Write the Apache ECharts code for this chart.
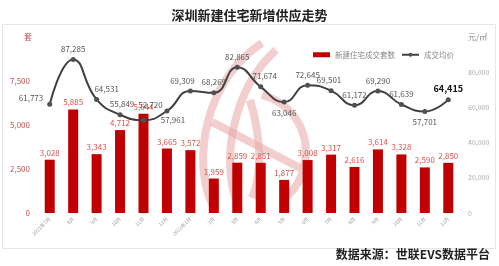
<!DOCTYPE html>
<html>
<head>
<meta charset="utf-8">
<script src="https://cdn.jsdelivr.net/npm/echarts@6/dist/echarts.min.js"></script>
<style>html,body{margin:0;padding:0;background:#fff;}#c{width:499px;height:266px;}</style>
</head>
<body>
<div id="c"></div>
<script>
const categories = ['2021年7月','8月','9月','10月','11月','12月','2022年1月','2月','3月','4月','5月','6月','7月','8月','9月','10月','11月','12月'];
const units = [3028,5885,3343,4712,5644,3665,3572,1959,2859,2851,1877,3008,3317,2616,3614,3328,2590,2850];
const prices = [61773,87285,64531,55849,52720,57961,69309,68269,82865,71674,63046,72645,69501,61172,69290,61639,57701,64415];
const priceLabelPos = ['left','top','top','top','top','bottom','top','top','top','top','bottom','top','top','top','top','top','bottom','top'];
const priceLabelOffset = [[0,-6],[0,0],[10,0],[2,0],[7,-5],[6,-2],[-8,0],[0,0],[0,0],[4,0],[0,0],[0,0],[-2,0],[0,0],[0,0],[0,0],[0,0],[0,0]];

const chart = echarts.init(document.getElementById('c'));
const font = '"Noto Sans CJK SC", "Noto Sans", sans-serif';
const wm = {stroke: '#e8a5a5', lineWidth: 8, fill: 'none', opacity: 0.55, lineCap: 'butt'};
chart.setOption({
  animation: false,
  textStyle: {fontFamily: font},
  title: {
    text: '深圳新建住宅新增供应走势', left: 'center', top: 4,
    textStyle: {fontSize: 13, fontWeight: 'bold', color: '#222', fontFamily: font}
  },
  legend: {
    right: 40, top: 46, itemGap: 6, itemWidth: 17, itemHeight: 5,
    textStyle: {fontSize: 7.5, color: '#888'},
    data: [
      {name: '新建住宅成交套数', icon: 'rect'},
      {name: '成交均价'}
    ]
  },
  grid: {left: 38, right: 39, top: 37, bottom: 53},
  xAxis: {
    type: 'category', data: categories,
    axisLine: {show: false}, axisTick: {show: false},
    axisLabel: {rotate: 45, fontSize: 5, color: '#999', interval: 0, margin: 5}
  },
  yAxis: [
    {type: 'value', min: 0, max: 10000, interval: 2500,
     splitLine: {show: false}, axisLine: {show: false}, axisTick: {show: false},
     axisLabel: {showMaxLabel: false, fontSize: 8, color: '#c0504d', margin: 8,
       formatter: v => v.toLocaleString('en-US')}},
    {type: 'value', min: 0, max: 100000, interval: 20000,
     splitLine: {show: false}, axisLine: {show: false}, axisTick: {show: false},
     axisLabel: {showMaxLabel: false, fontSize: 7, color: '#aaa', margin: 8,
       formatter: v => v.toLocaleString('en-US')}}
  ],
  series: [
    {name: '新建住宅成交套数', type: 'bar', data: units, barWidth: 10,
     itemStyle: {color: '#c00000'},
     label: {show: true, position: 'top', distance: 3, fontSize: 8, color: '#d9534f',
       formatter: p => p.value.toLocaleString('en-US')}},
    {name: '成交均价', type: 'line', yAxisIndex: 1, smooth: 0.5,
     symbol: 'circle', symbolSize: 5,
     lineStyle: {color: '#404040', width: 2}, itemStyle: {color: '#505050'},
     data: prices.map((v, i) => ({
       value: v,
       label: {show: true, position: priceLabelPos[i], offset: priceLabelOffset[i], distance: 4,
         fontSize: i === 17 ? 9 : 8, color: i === 17 ? '#111' : '#555',
         fontWeight: i === 17 ? 'bold' : 'normal',
         formatter: p => p.value.toLocaleString('en-US')}
     }))}
  ],
  graphic: [
    {type: 'rect', shape: {x: 2.5, y: 24.5, width: 493, height: 224}, silent: true, z: -10,
     style: {fill: 'none', stroke: '#e6e6e6', lineWidth: 1}},
    {type: 'bezierCurve', silent: true, z: -5, shape: {x1: 262, y1: 43, cpx1: 205, cpy1: 80, cpx2: 192, cpy2: 160, x2: 212, y2: 204}, style: wm},
    {type: 'bezierCurve', silent: true, z: -5, shape: {x1: 276, y1: 50, cpx1: 232, cpy1: 90, cpx2: 222, cpy2: 160, x2: 236, y2: 200}, style: wm},
    {type: 'bezierCurve', silent: true, z: -5, shape: {x1: 262, y1: 95, cpx1: 315, cpy1: 110, cpx2: 318, cpy2: 175, x2: 282, y2: 200}, style: wm},
    {type: 'bezierCurve', silent: true, z: -5, shape: {x1: 250, y1: 100, cpx1: 262, cpy1: 140, cpx2: 262, cpy2: 175, x2: 252, y2: 198}, style: wm},
    {type: 'line', silent: true, z: -5, shape: {x1: 212, y1: 122, x2: 300, y2: 168}, style: wm},
    {type: 'text', left: 24, top: 33, style: {text: '套', fontSize: 8, fill: '#c0504d', fontFamily: font}},
    {type: 'text', left: 468, top: 33, style: {text: '元/㎡', fontSize: 8, fill: '#888', fontFamily: font}},
    {type: 'text', right: 9, top: 248, style: {text: '数据来源：世联EVS数据平台', fontSize: 12, fontWeight: 'bold', fill: '#222', fontFamily: font}}
  ]
});
</script>
</body>
</html>
